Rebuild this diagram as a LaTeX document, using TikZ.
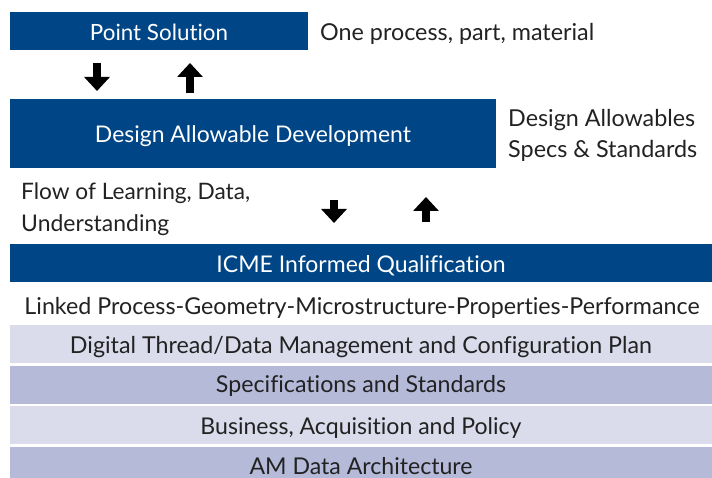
\documentclass[tikz,border=0pt]{standalone}
\usepackage{fontspec}
\setmainfont{Lato}[Ligatures={NoCommon}]
\usetikzlibrary{arrows.meta}
\definecolor{dblue}{HTML}{004687}
\definecolor{lbar}{HTML}{DADCEC}
\definecolor{mbar}{HTML}{B4BAD8}
\definecolor{txt}{HTML}{222222}
\newcommand\fw[2]{\resizebox{#1pt}{!}{\fontsize{20}{24}\selectfont #2}}
\begin{document}
\begin{tikzpicture}[x=1pt,y=-1pt,
  bar/.style={rectangle, inner sep=0pt, minimum width=702pt, minimum height=38pt,
              text height=28pt, text depth=10pt, text=txt},
  bluebox/.style={rectangle, fill=dblue, inner sep=0pt, text=white},
  lbl/.style={inner sep=0pt, text=txt, anchor=base west},
  blk/.style={line width=8pt, -{Triangle[width=25pt,length=14pt]}}]
\useasboundingbox (0,0) rectangle (712,478);
% top box
\node[bluebox, minimum width=298pt, minimum height=38pt, text height=29pt, text depth=9pt]
  (ps) at (159,31) {\fw{138}{Point Solution}};
\node[lbl] (psl) at (320,41) {\fw{274}{One process, part, material}};
% middle box
\node[bluebox, minimum width=486pt, minimum height=69pt, text height=44pt, text depth=25pt]
  (dad) at (253,133.5) {\fw{316}{Design Allowable Development}};
\node[lbl] (dal1) at (508,127) {\fw{187}{Design Allowables}};
\node[lbl] (dal2) at (508,158) {\fw{189}{Specs \& Standards}};
\node[lbl] (flow1) at (21,200) {\fw{229}{Flow of Learning, Data,}};
\node[lbl] (flow2) at (21,232) {\fw{148}{Understanding}};
% arrows
\coordinate (a1s) at (97,63);  \coordinate (a1e) at (97,91);
\coordinate (a2s) at (190,93); \coordinate (a2e) at (190,63);
\coordinate (a3s) at (334,200); \coordinate (a3e) at (334,223);
\coordinate (a4s) at (426,222); \coordinate (a4e) at (426,197);
\draw[blk] (a1s) -- (a1e);
\draw[blk] (a2s) -- (a2e);
\draw[blk] (a3s) -- (a3e);
\draw[blk] (a4s) -- (a4e);
% bars
\node[bar, fill=dblue, text=white, text height=29pt, text depth=9pt] (icme) at (361,263)
  {\fw{289}{ICME Informed Qualification}};
\node[inner sep=0pt, text=txt, anchor=base] (link) at (362,314)
  {\fw{675}{Linked Process-Geometry-Microstructure-Properties-Performance}};
\node[bar, fill=lbar] (dt) at (361,344)
  {\fw{582}{Digital Thread/Data Management and Configuration Plan}};
\node[bar, fill=mbar, text height=27pt, text depth=11pt] (spec) at (361,384.5)
  {\fw{290}{Specifications and Standards}};
\node[bar, fill=lbar, text height=29pt, text depth=9pt] (bus) at (361,424.5)
  {\fw{321}{Business, Acquisition and Policy}};
\node[bar, fill=mbar, text height=27pt, text depth=11pt] (am) at (361,466)
  {\fw{223}{AM Data Architecture}};
\end{tikzpicture}
\end{document}
